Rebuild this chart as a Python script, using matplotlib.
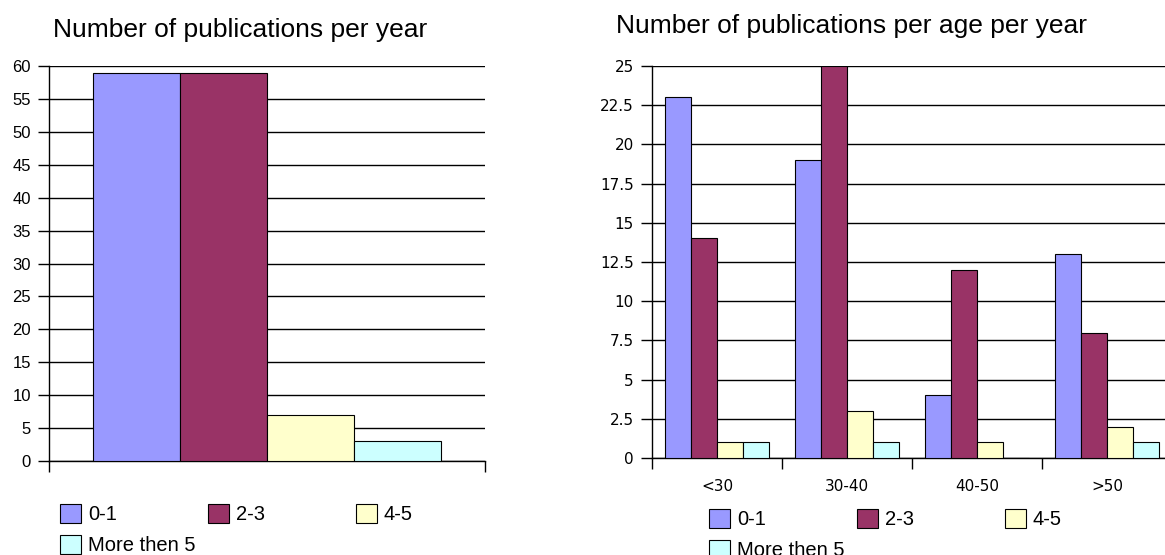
import numpy as np
import matplotlib.pyplot as plt
from matplotlib.ticker import FixedLocator

# legend groups (publications per year) and their colours
groups = ['0-1', '2-3', '4-5', 'More then 5']
colors = ['#9999ff', '#993366', '#ffffcc', '#ccffff']

# left chart: number of publications per year
per_year = [59, 59, 7, 3]

# right chart: number of publications per age per year
ages = ['<30', '30-40', '40-50', '>50']
age_01 = [23, 19, 4, 13]
age_23 = [14, 25, 12, 8]
age_45 = [1, 3, 1, 2]
age_more = [1, 1, 0, 1]

W, H = 1165, 555
fig = plt.figure(figsize=(W / 100, H / 100), dpi=100)

ax1 = fig.add_axes([49 / W, 94 / H, 436 / W, 395 / H])
ax2 = fig.add_axes([652 / W, 97 / H, 520 / W, 392 / H])

offsets = [-0.3, -0.1, 0.1, 0.3]
width = 0.2

#left chart, a single category
bars1 = []
for i in range(len(groups)):
    b = ax1.bar([0 + offsets[i]], [per_year[i]], width, color=colors[i],
                edgecolor='black', linewidth=0.8, zorder=3)
    bars1.append(b)

#right chart, one group of bars per age
series = [age_01, age_23, age_45, age_more]
x = np.arange(len(ages))
bars2 = []
for i in range(len(groups)):
    b = ax2.bar(x + offsets[i], series[i], width, color=colors[i],
                edgecolor='black', linewidth=0.8, zorder=3)
    bars2.append(b)

#axes styling
ax1.set_xlim(-0.5, 0.5)
ax1.set_ylim(0, 60)
ax1.set_yticks(np.arange(0, 61, 5))
ax1.set_xticks([])
ax1.xaxis.set_minor_locator(FixedLocator([-0.5, 0.5]))

ax2.set_xlim(-0.5, len(ages) - 0.5)
ax2.set_ylim(0, 25)
yt = np.arange(0, 25.1, 2.5)
ax2.set_yticks(yt)
ax2.set_yticklabels(['%g' % v for v in yt])
ax2.set_xticks(x)
ax2.set_xticklabels(ages)
ax2.xaxis.set_minor_locator(FixedLocator(np.arange(-0.5, len(ages), 1.0)))

for ax in (ax1, ax2):
    for s in ('top', 'right'):
        ax.spines[s].set_visible(False)
    for s in ('left', 'bottom'):
        ax.spines[s].set_color('black')
        ax.spines[s].set_linewidth(1)
    ax.yaxis.grid(True, color='black', linewidth=1)
    ax.set_axisbelow(True)
    ax.tick_params(axis='y', direction='out', length=8, width=1, pad=5)
    ax.tick_params(axis='x', which='major', length=0, pad=15)
    ax.tick_params(axis='x', which='minor', direction='out', length=8, width=1)

for lab in ax1.get_yticklabels():
    lab.set_fontfamily('Liberation Sans')
    lab.set_fontsize(12)
for lab in ax2.get_yticklabels() + ax2.get_xticklabels():
    lab.set_fontfamily('DejaVu Sans')
    lab.set_fontsize(11)

#titles
fig.text(240 / W, 1 - 37 / H, 'Number of publications per year', ha='center',
         va='baseline', fontsize=19, family='Liberation Sans')
fig.text(851 / W, 1 - 33 / H, 'Number of publications per age per year',
         ha='center', va='baseline', fontsize=19, family='Liberation Sans')

#legends, three on the first row and the last one below
legprops = dict(frameon=False, borderpad=0, borderaxespad=0, handlelength=1.05,
                handleheight=1.05, handletextpad=0.35, loc='upper left',
                prop={'family': 'Liberation Sans', 'size': 14.5},
                bbox_transform=fig.transFigure)

for ax, bars, lx, ly in ((ax1, bars1, 60, 504), (ax2, bars2, 709, 509)):
    leg = ax.legend(bars[:3], groups[:3], ncol=3, columnspacing=4.5,
                    bbox_to_anchor=(lx / W, 1 - ly / H), **legprops)
    ax.add_artist(leg)
    ax.legend(bars[3:], groups[3:], bbox_to_anchor=(lx / W, 1 - (ly + 31) / H),
              **legprops)

plt.savefig('out.png', dpi=100)
